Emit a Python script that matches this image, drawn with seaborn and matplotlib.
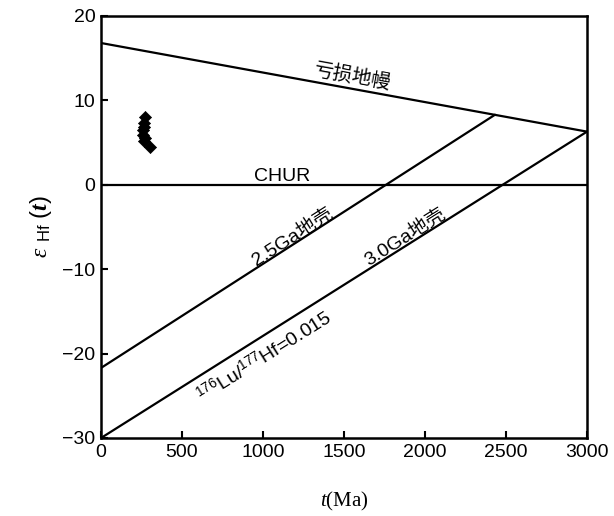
import matplotlib
matplotlib.use("Agg")
import matplotlib.pyplot as plt
import seaborn as sns
import pandas as pd

# ---- data ----
dm_t = [0, 3000]
dm_e = [16.8, 6.3]
chur_t = [0, 3000]
chur_e = [0, 0]
c25_t = [0, 2432]
c25_e = [-21.7, 8.3]
c30_t = [0, 3000]
c30_e = [-30.0, 6.3]
sample_t = [272, 266, 266, 262, 259, 272, 268, 305]
sample_e = [8.0, 7.35, 6.9, 6.5, 5.9, 5.5, 5.2, 4.5]
xticks = [0, 500, 1000, 1500, 2000, 2500, 3000]
yticks = [-30, -20, -10, 0, 10, 20]

sns.set_style("ticks")
plt.rcParams['font.family'] = ['Liberation Sans', 'Noto Sans CJK SC', 'DejaVu Sans']
plt.rcParams['axes.unicode_minus'] = True
plt.rcParams['text.color'] = 'black'
plt.rcParams['axes.labelcolor'] = 'black'
plt.rcParams['mathtext.fontset'] = 'custom'
plt.rcParams['mathtext.rm'] = 'Liberation Sans'
plt.rcParams['mathtext.it'] = 'Liberation Serif:italic'
plt.rcParams['mathtext.bf'] = 'Liberation Serif:italic:bold'

fig = plt.figure(figsize=(6.14, 5.16), dpi=100)
ax = fig.add_axes([101/614, 1-438/516, 486/614, 422/516])

lw = 1.6
for t, e in [(dm_t, dm_e), (chur_t, chur_e), (c25_t, c25_e), (c30_t, c30_e)]:
    sns.lineplot(x=t, y=e, ax=ax, color='black', lw=lw, estimator=None, sort=False)

sns.scatterplot(x=sample_t, y=sample_e, ax=ax, color='black', marker='D', s=38,
                edgecolor='black', linewidth=0.5, zorder=5)

ax.set_xlim(0, 3000)
ax.set_ylim(-30, 20)
ax.set_xticks(xticks)
ax.set_yticks(yticks)
ax.tick_params(direction='in', length=5, width=1.5, labelsize=14, pad=4, colors='black')
for s in ax.spines.values():
    s.set_linewidth(1.8)
    s.set_color('black')

cjk = ['Noto Sans CJK SC', 'Liberation Sans']
mix = ['Liberation Sans', 'Noto Sans CJK SC']
ax.text(1556, 12.8, '亏损地幔', rotation=-10.4, ha='center', va='center', fontsize=14, family=cjk)
ax.text(1117, 1.0, 'CHUR', ha='center', va='center', fontsize=14)
ax.text(1185, -6.2, '2.5Ga地壳', rotation=32.5, ha='center', va='center', fontsize=14, family=mix)
ax.text(1877, -6.2, '3.0Ga地壳', rotation=32.1, ha='center', va='center', fontsize=14, family=mix)
ax.text(1012, -20.4, r'$^{176}$Lu/$^{177}$Hf=0.015', rotation=32.1, ha='center', va='center',
        fontsize=14)

ax.set_xlabel(r'$\it{t}$(Ma)', family='Liberation Serif', fontsize=15, labelpad=21)
ax.set_ylabel(r'$\varepsilon$ $_{\rm Hf}$ $(\mathbf{t})$', fontsize=17, labelpad=6)

fig.savefig('out.png', dpi=100, facecolor='white')
